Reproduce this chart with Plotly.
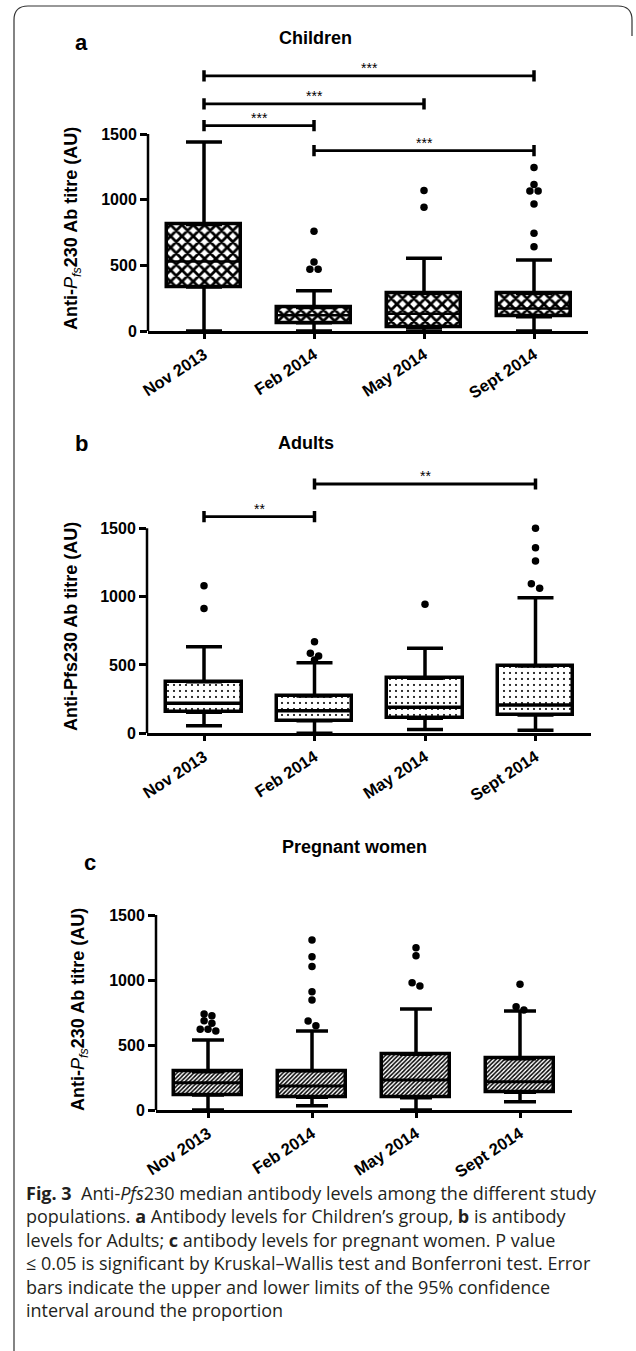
import plotly.graph_objects as go

W, H = 636, 1351

categories = ["Nov 2013", "Feb 2014", "May 2014", "Sept 2014"]
y_tick_values = [0, 500, 1000, 1500]

# Panel a - Children
children_lower = [0, 0, 0, 0]
children_q1 = [335, 63, 28, 109]
children_median = [530, 120, 132, 172]
children_q3 = [810, 178, 287, 287]
children_upper = [1440, 306, 554, 541]
children_outliers = [[], [760, 525, 470, 470], [1070, 942],
                     [1244, 1115, 1066, 1066, 967, 744, 642]]
children_sig = [(0, 3, 1942, "***"), (0, 2, 1729, "***"),
                (0, 1, 1564, "***"), (1, 3, 1373, "***")]

# Panel b - Adults
adults_lower = [56, 0, 28, 22]
adults_q1 = [154, 92, 110, 134]
adults_median = [219, 165, 190, 207]
adults_q3 = [378, 273, 402, 492]
adults_upper = [634, 516, 622, 992]
adults_outliers = [[1080, 914], [670, 585, 565, 536], [944],
                   [1500, 1358, 1260, 1094, 1061]]
adults_sig = [(1, 3, 1824, "**"), (0, 1, 1585, "**")]

# Panel c - Pregnant women
pregnant_lower = [0, 33, 0, 64]
pregnant_q1 = [115, 98, 95, 136]
pregnant_median = [210, 185, 231, 218]
pregnant_q3 = [295, 302, 428, 395]
pregnant_upper = [538, 608, 777, 762]
pregnant_outliers = [[738, 725, 687, 667, 621, 621, 608],
                     [1308, 1179, 1103, 910, 846, 685, 649],
                     [1249, 1187, 979, 954], [967, 795, 769]]
pregnant_sig = []

ytitle_italic = ("Anti-<span style='font-weight:normal'><i>P</i></span>"
                 "<sub><span style='font-weight:normal'><i>fs</i></span></sub>"
                 "230 Ab titre (AU)")
ytitle_plain = "Anti-Pfs230 Ab titre (AU)"

caption_lines = [
    "<b>Fig. 3</b>  Anti-<i>Pfs</i>230 median antibody levels among the different study",
    "populations. <b>a</b> Antibody levels for Children’s group, <b>b</b> is antibody",
    "levels for Adults; <b>c</b> antibody levels for pregnant women. P value",
    "≤ 0.05 is significant by Kruskal–Wallis test and Bonferroni test. Error",
    "bars indicate the upper and lower limits of the 95% confidence",
    "interval around the proportion",
]


def px_x(x):
    return x / W


def px_y(y):
    return 1 - y / H


def spread(values, tol=45.0, step=0.075):
    vals = sorted(values, reverse=True)
    groups = []
    for v in vals:
        if groups and groups[-1][0] - v < tol:
            groups[-1].append(v)
        else:
            groups.append([v])
    offs, ys = [], []
    for g in groups:
        n = len(g)
        for k, v in enumerate(g):
            offs.append((k - (n - 1) / 2) * step)
            ys.append(v)
    return offs, ys


panels = [
    dict(letter="a", title="Children", ytitle=ytitle_italic,
         lower=children_lower, q1=children_q1, median=children_median,
         q3=children_q3, upper=children_upper, outliers=children_outliers,
         sig=children_sig,
         x_px=(148, 588), first_px=204, step_px=110,
         zero_px=331, per_unit=197 / 1500, top=2100,
         pattern=dict(shape="x", size=8, solidity=0.57),
         cap=18, box_w=0.68, med_w=2.5,
         letter_xy=(81, 43), title_xy=(315, 38), ytitle_xy=(72, 229)),
    dict(letter="b", title="Adults", ytitle=ytitle_plain,
         lower=adults_lower, q1=adults_q1, median=adults_median,
         q3=adults_q3, upper=adults_upper, outliers=adults_outliers,
         sig=adults_sig,
         x_px=(147, 591), first_px=204, step_px=110.5,
         zero_px=733.3, per_unit=205 / 1500, top=2000,
         pattern=dict(shape=".", size=6, solidity=0.1),
         cap=18, box_w=0.68, med_w=3.5,
         letter_xy=(81, 443), title_xy=(306, 443), ytitle_xy=(71, 627)),
    dict(letter="c", title="Pregnant women", ytitle=ytitle_italic,
         lower=pregnant_lower, q1=pregnant_q1, median=pregnant_median,
         q3=pregnant_q3, upper=pregnant_upper, outliers=pregnant_outliers,
         sig=pregnant_sig,
         x_px=(156, 572), first_px=208, step_px=104,
         zero_px=1110, per_unit=195 / 1500, top=1560,
         pattern=dict(shape="/", size=3, solidity=0.5),
         cap=16, box_w=0.66, med_w=3,
         letter_xy=(90, 862), title_xy=(354, 847), ytitle_xy=(79, 1010)),
]

fig = go.Figure()
annotations = []
shapes = []
bold_font = dict(family="Liberation Sans, Arial, sans-serif", color="black", weight="bold")
xs = list(range(len(categories)))

for idx, p in enumerate(panels, start=1):
    sfx = "" if idx == 1 else str(idx)
    xa, ya = "x" + sfx, "y" + sfx
    xkey, ykey = "xaxis" + sfx, "yaxis" + sfx

    # boxes
    fig.add_trace(go.Bar(
        x=xs, y=[q3 - q1 for q1, q3 in zip(p["q1"], p["q3"])], base=p["q1"],
        width=p["box_w"], xaxis=xa, yaxis=ya,
        marker=dict(color="white", line=dict(color="black", width=3.5),
                    pattern=dict(fgcolor="black", bgcolor="white",
                                 fillmode="replace", **p["pattern"])),
        hoverinfo="skip"))
    # whiskers
    fig.add_trace(go.Scatter(
        x=xs, y=p["q3"], mode="markers", xaxis=xa, yaxis=ya,
        marker=dict(size=1, color="rgba(0,0,0,0)"),
        error_y=dict(type="data", symmetric=False,
                     array=[u - q for u, q in zip(p["upper"], p["q3"])],
                     arrayminus=[0] * len(xs), width=p["cap"], thickness=3.5,
                     color="black")))
    fig.add_trace(go.Scatter(
        x=xs, y=p["q1"], mode="markers", xaxis=xa, yaxis=ya,
        marker=dict(size=1, color="rgba(0,0,0,0)"),
        error_y=dict(type="data", symmetric=False,
                     array=[0] * len(xs),
                     arrayminus=[q - l for q, l in zip(p["q1"], p["lower"])],
                     width=p["cap"], thickness=3.5, color="black")))
    # medians
    fig.add_trace(go.Scatter(
        x=xs, y=p["median"], mode="markers", xaxis=xa, yaxis=ya,
        marker=dict(symbol="line-ew", size=p["box_w"] * p["step_px"] / 1.4,
                    line=dict(width=p["med_w"], color="black"))))
    # outliers
    ox, oy = [], []
    for i, vals in enumerate(p["outliers"]):
        offs, ys = spread(vals)
        ox += [i + o for o in offs]
        oy += ys
    fig.add_trace(go.Scatter(x=ox, y=oy, mode="markers", xaxis=xa, yaxis=ya,
                             marker=dict(size=7.5, color="black")))
    # significance brackets
    for (i, j, h, lab) in p["sig"]:
        fig.add_trace(go.Scatter(
            x=[i, j], y=[h, h], mode="lines+markers", xaxis=xa, yaxis=ya,
            line=dict(color="black", width=2.8),
            marker=dict(symbol="line-ns", size=8,
                        line=dict(width=3.5, color="black"))))
        annotations.append(dict(x=(i + j) / 2, y=h, xref=xa, yref=ya, text=lab,
                                showarrow=False, yanchor="bottom", yshift=-2,
                                font=dict(family="Liberation Sans, Arial", size=14,
                                          color="black")))

    # axes
    x0, x1 = p["x_px"]
    rng = [(x0 - p["first_px"]) / p["step_px"], (x1 - p["first_px"]) / p["step_px"]]
    top_px = p["zero_px"] - p["top"] * p["per_unit"]
    fig.update_layout({
        xkey: dict(domain=[px_x(x0), px_x(x1)], range=rng, anchor=ya,
                   automargin=False,
                   showline=True, linewidth=2.5, linecolor="black",
                   ticks="outside", ticklen=5, tickwidth=2.5, tickcolor="black",
                   tickvals=xs, ticktext=categories, tickangle=-33,
                   tickfont=dict(size=16.5, **bold_font),
                   showgrid=False, zeroline=False, fixedrange=True),
        ykey: dict(domain=[px_y(p["zero_px"]), px_y(top_px)], range=[0, p["top"]],
                   anchor=xa, automargin=False, showline=False, ticks="outside",
                   ticklen=7, tickwidth=2.5, tickcolor="black",
                   tickvals=y_tick_values,
                   tickfont=dict(size=16, **bold_font),
                   showgrid=False, zeroline=False, fixedrange=True),
    })
    shapes.append(dict(type="line", xref=xa + " domain", x0=0, x1=0,
                       yref=ya, y0=0, y1=y_tick_values[-1],
                       line=dict(color="black", width=2.5)))

    lx, ly = p["letter_xy"]
    annotations.append(dict(x=px_x(lx), y=px_y(ly), xref="paper", yref="paper",
                            text=p["letter"], showarrow=False,
                            xanchor="center", yanchor="middle",
                            font=dict(size=22, **bold_font)))
    tx, ty = p["title_xy"]
    annotations.append(dict(x=px_x(tx), y=px_y(ty), xref="paper", yref="paper",
                            text=p["title"], showarrow=False,
                            xanchor="center", yanchor="middle",
                            font=dict(size=18, **bold_font)))
    yx, yy = p["ytitle_xy"]
    annotations.append(dict(x=px_x(yx), y=px_y(yy), xref="paper", yref="paper",
                            text=p["ytitle"], showarrow=False, textangle=-90,
                            xanchor="center", yanchor="middle",
                            font=dict(size=18, **bold_font)))

annotations.append(dict(x=px_x(24), y=px_y(1179), xref="paper", yref="paper",
                        text="<br>".join(caption_lines), showarrow=False,
                        xanchor="left", yanchor="top", align="left",
                        font=dict(family="Open Sans, sans-serif", size=18,
                                  color="#231f20")))

# figure frame (rounded top, left rule)
pts = [(14, 1351), (14, 20), (14, 6), (28, 6), (618, 6), (632, 6), (632, 20), (632, 36)]
path = ("M {} {} L {} {} Q {} {} {} {} L {} {} Q {} {} {} {} L {} {}").format(
    *[v for (x, y) in pts for v in (px_x(x), px_y(y))])
shapes.append(dict(type="path", xref="paper", yref="paper", path=path,
                   line=dict(color="#333333", width=1.2)))

fig.update_layout(width=W, height=H, margin=dict(l=0, r=0, t=0, b=0, autoexpand=False),
                  showlegend=False, plot_bgcolor="white", paper_bgcolor="white",
                  annotations=annotations, shapes=shapes, bargap=0)

fig.write_html("out.html", config={"displayModeBar": False},
               post_script="document.body.style.margin='0';")
